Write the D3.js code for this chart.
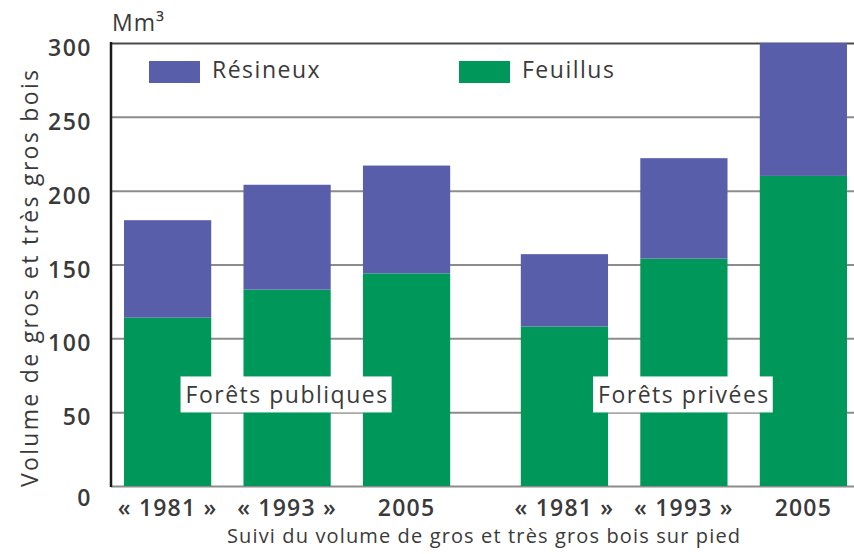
<!DOCTYPE html>
<html>
<head>
<meta charset="utf-8">
<script src="https://cdn.jsdelivr.net/npm/d3@7"></script>
<style>
  body { margin: 0; background: #fff; }
  text { font-family: "Open Sans", sans-serif; fill: #3a3a3a; }
</style>
</head>
<body>
<div id="container"></div>
<script>
/* CONSTANTS AND GLOBALS */
const width = 854,
  height = 554,
  margin = { top: 43, bottom: 68, left: 111, right: 0 }

/* DATA */
const groups = ["Forêts publiques", "Forêts privées"]
const years = ["« 1981 »", "« 1993 »", "2005"]
const feuillusPubliques = [114, 133, 144]
const resineuxPubliques = [66, 71, 73]
const feuillusPrivees = [108, 154, 210]
const resineuxPrivees = [49, 68, 90]
const yTicks = [0, 50, 100, 150, 200, 250, 300]
const seriesKeys = ["Feuillus", "Résineux"]

const colors = { "Feuillus": "#00975a", "Résineux": "#585ea9" }

const rows = groups.flatMap((g, gi) => years.map((yr, yi) => ({
  group: g,
  year: yr,
  "Feuillus": gi === 0 ? feuillusPubliques[yi] : feuillusPrivees[yi],
  "Résineux": gi === 0 ? resineuxPubliques[yi] : resineuxPrivees[yi]
})))

/* SCALES */
const yScale = d3.scaleLinear()
  .domain([0, 300])
  .range([height - margin.bottom, margin.top])

const x0 = d3.scaleBand()
  .domain(groups)
  .range([124, 847])
  .paddingInner(0.178)

const x1 = d3.scaleBand()
  .domain(years)
  .range([0, x0.bandwidth()])
  .paddingInner(0.27)

const stacked = d3.stack().keys(seriesKeys)(rows)

/* SVG */
const svg = d3.select("#container")
  .append("svg")
  .attr("width", width)
  .attr("height", height)

// grid lines + tick labels
const yAxis = d3.axisLeft(yScale)
  .tickValues(yTicks)
  .tickSize(-(width - margin.left))
  .tickPadding(19)
  .tickFormat(d3.format("d"))

const gy = svg.append("g")
  .attr("transform", `translate(${margin.left},0)`)
  .call(yAxis)
gy.select(".domain").remove()
gy.selectAll(".tick line")
  .attr("stroke", d => d === 300 ? "#4a4a4a" : "#8c8c8c")
  .attr("stroke-width", 2)
gy.selectAll(".tick text")
  .attr("font-size", 23)
  .attr("font-weight", 600)
  .attr("letter-spacing", 1.5)
  .attr("fill", "#3a3a3a")
  .attr("dy", d => d === 0 ? "0.85em" : "0.55em")

// bars
svg.append("g")
  .selectAll("g")
  .data(stacked)
  .join("g")
  .attr("fill", s => colors[s.key])
  .selectAll("rect")
  .data(s => s)
  .join("rect")
  .attr("x", d => x0(d.data.group) + x1(d.data.year))
  .attr("width", x1.bandwidth())
  .attr("y", d => yScale(d[1]))
  .attr("height", d => yScale(d[0]) - yScale(d[1]))

// y axis line
svg.append("line")
  .attr("x1", margin.left).attr("x2", margin.left)
  .attr("y1", yScale(300) - 1).attr("y2", yScale(0) + 1)
  .attr("stroke", "#1a1a1a")
  .attr("stroke-width", 2.5)

// x tick labels
svg.append("g")
  .selectAll("text")
  .data(rows)
  .join("text")
  .attr("x", d => x0(d.group) + x1(d.year) + x1.bandwidth() / 2)
  .attr("y", 516)
  .attr("text-anchor", "middle")
  .attr("font-size", 23)
  .attr("font-weight", 600)
  .attr("letter-spacing", 1.2)
  .text(d => d.year)

// group labels in white boxes
const groupLabels = svg.append("g")
  .selectAll("g")
  .data(groups)
  .join("g")
  .attr("transform", g => `translate(${x0(g) + x0.bandwidth() / 2},${yScale(62)})`)

groupLabels.append("text")
  .attr("text-anchor", "middle")
  .attr("dy", "0.35em")
  .attr("font-size", 23)
  .attr("font-weight", 500)
  .attr("letter-spacing", 1.5)
  .text(g => g)

groupLabels.each(function () {
  const g = d3.select(this)
  const bb = g.select("text").node().getBBox()
  g.insert("rect", "text")
    .attr("x", bb.x - 5)
    .attr("y", -18)
    .attr("width", bb.width + 8)
    .attr("height", 36)
    .attr("fill", "#fff")
})

// legend
const legendData = ["Résineux", "Feuillus"]
const legendX = [149, 459]
const legend = svg.append("g")
  .selectAll("g")
  .data(legendData)
  .join("g")
  .attr("transform", (d, i) => `translate(${legendX[i]},61)`)

legend.append("rect")
  .attr("width", 51)
  .attr("height", 22)
  .attr("fill", d => colors[d])

legend.append("text")
  .attr("x", 63)
  .attr("y", 17)
  .attr("font-size", 23)
  .attr("font-weight", 500)
  .attr("letter-spacing", 1.5)
  .text(d => d)

// unit
svg.append("text")
  .attr("x", 112)
  .attr("y", 31)
  .attr("font-size", 23)
  .attr("font-weight", 500)
  .attr("letter-spacing", 1)
  .text("Mm³")

// axis titles
svg.append("text")
  .attr("transform", `translate(38,${(70 + 487) / 2}) rotate(-90)`)
  .attr("text-anchor", "middle")
  .attr("font-size", 23)
  .attr("font-weight", 500)
  .attr("textLength", 417)
  .attr("lengthAdjust", "spacing")
  .text("Volume de gros et très gros bois")

svg.append("text")
  .attr("x", (227 + 740) / 2)
  .attr("y", 543)
  .attr("text-anchor", "middle")
  .attr("font-size", 20)
  .attr("textLength", 513)
  .attr("lengthAdjust", "spacing")
  .text("Suivi du volume de gros et très gros bois sur pied")
</script>
</body>
</html>
